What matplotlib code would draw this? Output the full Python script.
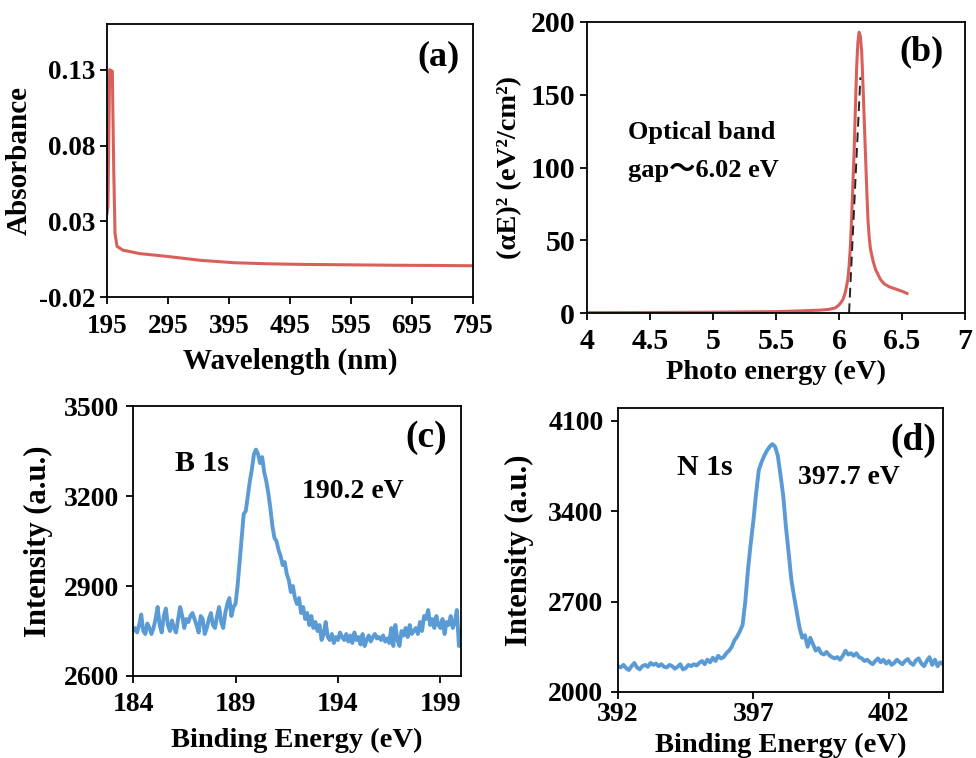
import matplotlib
matplotlib.use('Agg')
import matplotlib.pyplot as plt
import numpy as np

plt.rcParams['font.family'] = ['Liberation Serif', 'Noto Sans CJK SC', 'DejaVu Sans']
plt.rcParams['font.weight'] = 'bold'

RED = '#d9605a'
BLUE = '#5b9bd5'

# (a) UV-vis absorbance
wl = [195, 196.6, 199.4, 203.8, 206, 208.2, 211.5, 221, 249, 293, 348, 403,
      458, 513, 568, 623, 678, 733, 795]
absorb = [0.035, 0.04, 0.13, 0.129, 0.066, 0.022, 0.0135, 0.011, 0.0087, 0.0069,
          0.0043, 0.0027, 0.002, 0.0016, 0.0014, 0.0012, 0.001, 0.0009, 0.0007]

# (b) Tauc plot
pe = [4.0, 4.5, 5.0, 5.5, 5.7, 5.85, 5.92, 5.97, 6.00, 6.03, 6.05, 6.07, 6.08,
      6.09, 6.10, 6.11, 6.12, 6.13, 6.14, 6.15, 6.16, 6.17, 6.18, 6.19, 6.20,
      6.21, 6.22, 6.23, 6.24, 6.25, 6.27, 6.29, 6.33, 6.36, 6.40, 6.45, 6.50, 6.54]
ae2 = [0.3, 0.4, 0.6, 1.0, 1.5, 2.0, 2.5, 3.5, 5.5, 9.0, 14, 23, 32,
       45, 64, 87, 110, 140, 168, 186, 193, 190, 180, 158, 134,
       110, 86, 64, 52, 44, 36, 30, 23, 20, 18, 16.5, 15, 13.5]
fit_x = [6.08, 6.17]
fit_y = [0, 162]

# (c) B 1s
b_energy = np.round(np.arange(184.0, 200.05, 0.1), 1)
b_int = [
    2750, 2760, 2745, 2770, 2805, 2750, 2740, 2775, 2760, 2740,
    2760, 2790, 2830, 2770, 2745, 2800, 2825, 2770, 2750, 2785,
    2760, 2745, 2790, 2830, 2800, 2760, 2790, 2780, 2800, 2810,
    2790, 2770, 2745, 2800, 2790, 2740, 2760, 2790, 2810, 2770,
    2760, 2800, 2830, 2780, 2760, 2810, 2840, 2860, 2800, 2830,
    2840, 2900, 2980, 3060, 3140, 3150, 3200, 3250, 3290, 3340,
    3355, 3340, 3310, 3330, 3280, 3250, 3210, 3160, 3100, 3060,
    3050, 3020, 3000, 2970, 2980, 2940, 2920, 2880, 2900, 2860,
    2840, 2860, 2810, 2830, 2790, 2810, 2770, 2800, 2760, 2780,
    2750, 2770, 2720, 2740, 2780, 2730, 2720, 2740, 2710, 2730,
    2720, 2745, 2730, 2720, 2740, 2715, 2735, 2710, 2745, 2720,
    2730, 2705, 2740, 2700, 2720, 2735, 2715, 2730, 2740, 2725,
    2730, 2720, 2735, 2715, 2725, 2710, 2760, 2700, 2770, 2720,
    2700, 2750, 2735, 2760, 2730, 2770, 2740, 2750, 2760, 2740,
    2780, 2750, 2800, 2790, 2820, 2770, 2790, 2760, 2800, 2770,
    2760, 2790, 2740, 2780, 2770, 2800, 2760, 2780, 2820, 2700,
    2750]

# (d) N 1s
n_energy = np.round(np.arange(392.0, 404.05, 0.1), 1)
n_int = [
    2200, 2190, 2210, 2185, 2170, 2200, 2225, 2190, 2175, 2200,
    2210, 2195, 2225, 2210, 2220, 2200, 2215, 2195, 2190, 2210,
    2200, 2180, 2195, 2215, 2175, 2185, 2210, 2200, 2215, 2205,
    2225, 2240, 2215, 2250, 2230, 2265, 2240, 2280, 2260, 2270,
    2300, 2320, 2350, 2400, 2430, 2470, 2520, 2700, 2950, 3150,
    3330, 3540, 3720, 3780, 3830, 3870, 3900, 3920, 3900, 3830,
    3680, 3520, 3280, 3080, 2870, 2740, 2620, 2500, 2420, 2440,
    2350, 2420, 2370, 2320, 2340, 2300, 2290, 2310, 2285, 2270,
    2260, 2270, 2250, 2280, 2320, 2290, 2300, 2280, 2300, 2270,
    2260, 2240, 2250, 2230, 2215, 2240, 2260, 2230, 2250, 2220,
    2240, 2210, 2225, 2250, 2230, 2215, 2240, 2255, 2225, 2210,
    2245, 2260, 2220, 2200, 2240, 2270, 2210, 2250, 2200, 2230,
    2215]

fig = plt.figure(figsize=(9.76, 7.58), dpi=100)
ax_a = fig.add_axes([0.1096, 0.608, 0.375, 0.360])
ax_b = fig.add_axes([0.6014, 0.587, 0.3873, 0.384])
ax_c = fig.add_axes([0.1363, 0.1082, 0.336, 0.356])
ax_d = fig.add_axes([0.6332, 0.0871, 0.333, 0.3747])


def style(ax, size, xpad, ypad):
    for s in ax.spines.values():
        s.set_linewidth(1.3)
    ax.tick_params(direction='out', length=5, width=1.3, labelsize=size,
                   top=False, right=False)
    ax.tick_params(axis='x', pad=xpad)
    ax.tick_params(axis='y', pad=ypad)
    for t in ax.get_xticklabels() + ax.get_yticklabels():
        t.set_fontweight('bold')


# (a)
ax_a.plot(wl, absorb, color=RED, lw=2.2)
ax_a.set_xlim(195, 795)
ax_a.set_ylim(-0.02, 0.16)
ax_a.set_xticks(range(195, 796, 100))
ax_a.set_yticks([-0.02, 0.03, 0.08, 0.13])
ax_a.set_yticklabels(['-0.02', '0.03', '0.08', '0.13'])
ax_a.set_xlabel('Wavelength (nm)', fontsize=21, fontweight='bold')
ax_a.set_ylabel('Absorbance', fontsize=21, fontweight='bold')
ax_a.xaxis.set_label_coords(0.5, -0.187)
ax_a.yaxis.set_label_coords(-0.202, 0.5)
ax_a.text(0.907, 0.879, '(a)', transform=ax_a.transAxes, ha='center', va='center',
          fontsize=26, fontweight='bold')
style(ax_a, 19.5, 7.5, 3.5)

# (b)
ax_b.plot(pe, ae2, color=RED, lw=2.2)
ax_b.plot(fit_x, fit_y, color='#222222', lw=1.4, ls=(0, (5, 3)))
ax_b.set_xlim(4, 7)
ax_b.set_ylim(0, 200)
ax_b.set_xticks([4, 4.5, 5, 5.5, 6, 6.5, 7])
ax_b.set_xticklabels(['4', '4.5', '5', '5.5', '6', '6.5', '7'])
ax_b.set_yticks([0, 50, 100, 150, 200])
ax_b.set_xlabel('Photo energy (eV)', fontsize=20.5, fontweight='bold')
ax_b.set_ylabel('(αE)² (eV²/cm²)', fontsize=20.5, fontweight='bold')
ax_b.xaxis.set_label_coords(0.5, -0.162)
ax_b.yaxis.set_label_coords(-0.172, 0.5)
ax_b.text(0.886, 0.897, '(b)', transform=ax_b.transAxes, ha='center', va='center',
          fontsize=26, fontweight='bold')
ax_b.text(0.108, 0.619, 'Optical band', transform=ax_b.transAxes, ha='left', va='center',
          fontsize=19, fontweight='bold')
ax_b.text(0.108, 0.491, 'gap～6.02 eV', transform=ax_b.transAxes, ha='left', va='center',
          fontsize=19, fontweight='bold')
style(ax_b, 21.5, 5.5, 3.5)

# (c)
ax_c.plot(b_energy, b_int, color=BLUE, lw=2.8)
ax_c.set_xlim(184, 200)
ax_c.set_ylim(2600, 3500)
ax_c.set_xticks([184, 189, 194, 199])
ax_c.set_yticks([2600, 2900, 3200, 3500])
ax_c.set_xlabel('Binding Energy (eV)', fontsize=20.5, fontweight='bold')
ax_c.set_ylabel('Intensity (a.u.)', fontsize=22, fontweight='bold')
ax_c.xaxis.set_label_coords(0.5, -0.193)
ax_c.yaxis.set_label_coords(-0.244, 0.5)
ax_c.text(0.893, 0.883, '(c)', transform=ax_c.transAxes, ha='center', va='center',
          fontsize=27, fontweight='bold')
ax_c.text(0.128, 0.789, 'B 1s', transform=ax_c.transAxes, ha='left', va='center',
          fontsize=21.5, fontweight='bold')
ax_c.text(0.514, 0.683, '190.2 eV', transform=ax_c.transAxes, ha='left', va='center',
          fontsize=20, fontweight='bold')
style(ax_c, 20, 6.5, 5)

# (d)
ax_d.plot(n_energy, n_int, color=BLUE, lw=2.8)
ax_d.set_xlim(392, 404)
ax_d.set_ylim(2000, 4200)
ax_d.set_xticks([392, 397, 402])
ax_d.set_yticks([2000, 2700, 3400, 4100])
ax_d.set_xlabel('Binding Energy (eV)', fontsize=20.5, fontweight='bold')
ax_d.set_ylabel('Intensity (a.u.)', fontsize=22, fontweight='bold')
ax_d.xaxis.set_label_coords(0.5, -0.143)
ax_d.yaxis.set_label_coords(-0.26, 0.5)
ax_d.text(0.908, 0.884, '(d)', transform=ax_d.transAxes, ha='center', va='center',
          fontsize=27, fontweight='bold')
ax_d.text(0.18, 0.789, 'N 1s', transform=ax_d.transAxes, ha='left', va='center',
          fontsize=21.5, fontweight='bold')
ax_d.text(0.554, 0.755, '397.7 eV', transform=ax_d.transAxes, ha='left', va='center',
          fontsize=20, fontweight='bold')
style(ax_d, 20, 2.5, 5.5)

fig.savefig('out.png', dpi=100)
